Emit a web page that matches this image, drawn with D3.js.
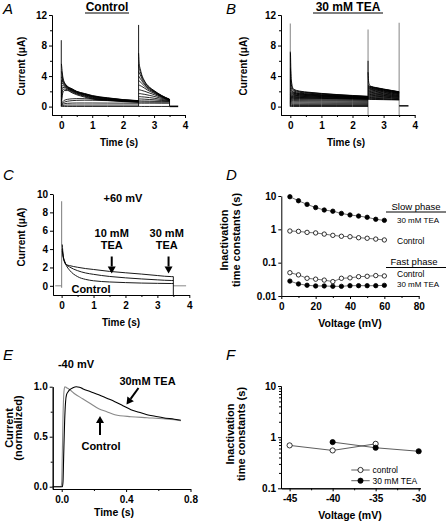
<!DOCTYPE html>
<html><head><meta charset="utf-8">
<script src="https://cdn.jsdelivr.net/npm/d3@7"></script>
<style>
html,body{margin:0;padding:0;background:#fff;}
svg{display:block;font-family:'Liberation Sans',Arial,Helvetica,sans-serif;}
.axis path,.axis line{stroke:#000;stroke-width:1;}
.axis text{font-size:10px;font-weight:bold;fill:#000;font-family:'Liberation Sans',Arial,sans-serif;}
</style></head><body>
<svg id="c" width="446" height="524"></svg>
<script>
// ---------- DATA ----------
// Panel A (control) : families of current traces (µA)
const aT1 = [0.005,0.02,0.05,0.1,0.2,0.35,0.5,0.75,1.0,1.5,2.0,2.5];
const aPulse1 = [
  [0.02,0.02,0.02,0.02,0.02,0.02,0.02,0.02,0.02,0.02,0.02,0.02],
  [0.05,0.1,0.15,0.18,0.2,0.2,0.2,0.2,0.2,0.2,0.2,0.2],
  [0.1,0.2,0.3,0.38,0.43,0.46,0.47,0.47,0.47,0.46,0.45,0.44],
  [0.15,0.3,0.45,0.58,0.7,0.78,0.82,0.84,0.83,0.78,0.72,0.66],
  [0.2,0.4,0.65,0.82,0.95,1.02,1.05,1.04,1.0,0.9,0.8,0.72],
  [0.4,1.0,1.8,2.1,2.1,1.8,1.55,1.25,1.0,0.8,0.65,0.55],
  [0.8,1.6,2.2,2.3,2.2,1.9,1.65,1.35,1.08,0.86,0.7,0.6],
  [1.3,2.2,2.5,2.5,2.3,2.0,1.74,1.43,1.15,0.92,0.74,0.63],
  [1.8,2.7,2.75,2.65,2.38,2.08,1.8,1.5,1.22,0.97,0.78,0.66],
  [2.4,3.1,2.95,2.78,2.45,2.14,1.86,1.56,1.28,1.02,0.82,0.69],
  [3.0,3.5,3.15,2.9,2.52,2.2,1.9,1.61,1.33,1.06,0.85,0.72],
  [3.8,3.9,3.35,3.0,2.57,2.25,1.94,1.65,1.37,1.09,0.88,0.74],
  [4.6,4.4,3.6,3.1,2.62,2.29,1.97,1.69,1.41,1.12,0.9,0.76],
  [5.6,5.0,3.9,3.2,2.67,2.33,2.0,1.72,1.45,1.15,0.92,0.78]
];
const aT2 = [2.5,2.52,2.55,2.6,2.7,2.85,3.0,3.25,3.5];
const aPulse2 = [
  [7.0,5.6,5.0,4.2,3.3,2.55,2.1,1.45,0.97],
  [5.5,5.0,4.6,4.0,3.2,2.5,2.05,1.42,0.95],
  [4.6,4.4,4.2,3.7,3.0,2.4,2.0,1.38,0.93],
  [4.0,3.9,3.7,3.4,2.85,2.3,1.93,1.34,0.91],
  [3.4,3.35,3.25,3.05,2.65,2.18,1.85,1.3,0.9],
  [2.8,2.8,2.75,2.65,2.4,2.02,1.74,1.25,0.88],
  [2.2,2.2,2.18,2.12,2.0,1.78,1.57,1.17,0.85],
  [1.7,1.7,1.7,1.66,1.6,1.47,1.34,1.06,0.82],
  [1.3,1.3,1.3,1.28,1.25,1.18,1.1,0.93,0.78],
  [1.0,1.0,1.0,0.99,0.97,0.93,0.89,0.8,0.73],
  [0.75,0.75,0.75,0.74,0.73,0.72,0.7,0.69,0.68],
  [0.6,0.6,0.6,0.6,0.6,0.59,0.59,0.58,0.58],
  [0.45,0.45,0.45,0.45,0.45,0.45,0.45,0.44,0.44],
  [0.02,0.02,0.02,0.02,0.02,0.02,0.02,0.02,0.02]
];
const aSpikes = [[0,0,8.7],[2.5,0.02,10.7],[3.5,0.02,0.97]];   // [time, from, to]
const aTail = [[3.5,0.03],[3.78,0.03]];

// Panel B (30 mM TEA)
const bT1 = [0.005,0.03,0.1,0.3,0.6,1.0,1.5,2.0,2.5];
const bPulse1 = [
  [0.02,0.02,0.02,0.02,0.02,0.02,0.02,0.02,0.02],
  [0.12,0.14,0.15,0.15,0.15,0.15,0.15,0.15,0.15],
  [0.25,0.3,0.3,0.3,0.3,0.3,0.3,0.3,0.29],
  [0.35,0.45,0.46,0.46,0.45,0.45,0.44,0.44,0.43],
  [0.45,0.6,0.62,0.62,0.61,0.6,0.59,0.58,0.57],
  [0.55,0.75,0.78,0.77,0.76,0.75,0.74,0.72,0.7],
  [0.6,0.88,0.92,0.91,0.9,0.88,0.86,0.84,0.82],
  [0.7,1.0,1.05,1.05,1.03,1.0,0.98,0.96,0.94],
  [0.8,1.1,1.14,1.13,1.1,1.07,1.04,1.0,0.97],
  [0.9,1.2,1.22,1.2,1.17,1.13,1.09,1.05,1.01],
  [1.0,1.3,1.31,1.28,1.24,1.19,1.14,1.09,1.05],
  [1.1,1.4,1.4,1.35,1.3,1.25,1.19,1.13,1.08],
  [1.25,1.52,1.49,1.43,1.37,1.31,1.24,1.17,1.11],
  [1.4,1.65,1.58,1.5,1.43,1.36,1.28,1.21,1.14],
  [1.6,1.78,1.67,1.57,1.49,1.41,1.32,1.25,1.17],
  [1.8,1.9,1.75,1.64,1.55,1.46,1.36,1.28,1.2],
  [2.1,2.05,1.83,1.7,1.61,1.51,1.4,1.31,1.23],
  [2.4,2.2,1.9,1.76,1.66,1.55,1.44,1.34,1.25],
  [3.5,2.5,2.05,1.87,1.75,1.63,1.5,1.39,1.29],
  [5.0,2.9,2.2,1.96,1.83,1.69,1.55,1.43,1.32],
  [7.0,3.5,2.3,2.03,1.88,1.73,1.58,1.46,1.35]
];
const bT2 = [2.5,2.52,2.55,2.6,2.75,3.0,3.25,3.5];
const bPulse2 = [
  [4.5,3.2,2.8,2.65,2.5,2.3,2.12,1.95],
  [2.8,2.72,2.68,2.6,2.46,2.27,2.1,1.92],
  [2.7,2.65,2.6,2.55,2.42,2.24,2.07,1.9],
  [2.6,2.56,2.53,2.48,2.36,2.19,2.03,1.86],
  [2.5,2.48,2.45,2.4,2.3,2.13,1.98,1.82],
  [2.4,2.39,2.37,2.33,2.23,2.08,1.93,1.78],
  [2.3,2.3,2.28,2.25,2.16,2.02,1.88,1.74],
  [2.2,2.2,2.18,2.16,2.08,1.95,1.82,1.69],
  [2.1,2.1,2.08,2.06,1.99,1.87,1.75,1.63],
  [2.0,2.0,1.98,1.96,1.9,1.79,1.68,1.57],
  [1.9,1.9,1.88,1.86,1.8,1.7,1.6,1.5],
  [1.8,1.8,1.79,1.77,1.71,1.62,1.53,1.44],
  [1.7,1.7,1.69,1.67,1.62,1.54,1.46,1.38],
  [1.6,1.6,1.59,1.58,1.53,1.46,1.39,1.32],
  [1.5,1.5,1.49,1.48,1.44,1.38,1.32,1.26],
  [1.4,1.4,1.4,1.39,1.35,1.3,1.25,1.2],
  [1.3,1.3,1.3,1.29,1.26,1.22,1.18,1.13],
  [1.2,1.2,1.2,1.19,1.17,1.13,1.09,1.05],
  [1.1,1.1,1.1,1.09,1.07,1.04,1.0,0.97],
  [1.02,1.02,1.02,1.01,1.0,0.97,0.94,0.92],
  [0.95,0.95,0.95,0.94,0.93,0.91,0.89,0.87]
];
const bGraySpikes = [[0,0,10.9],[2.5,-1.1,10.1],[3.5,-1.1,11.0]];
const bBlackSpikes = [[0,0,7.2],[2.5,0.95,6.0]];
const bTail = [[3.5,0.1],[3.8,0.1]];

// Panel C (+60 mV)
const cTime = [0.02,0.05,0.1,0.15,0.25,0.5,0.75,1.0,1.5,2.0,2.5,3.0,3.45,3.5];
const cControl = [4.5,3.3,2.6,2.2,1.7,1.0,0.7,0.55,0.42,0.35,0.3,0.27,0.25,0.25];
const cTea10   = [4.0,3.2,2.6,2.3,2.05,1.65,1.4,1.25,1.02,0.87,0.75,0.65,0.58,0.58];
const cTea30   = [3.8,3.1,2.5,2.3,2.2,2.02,1.88,1.78,1.57,1.42,1.28,1.12,1.0,1.0];
const cSpike = [0,-0.2,9.2];
const cEnd = [3.5,-1,1.0];
const cTail = [[3.5,0],[3.9,0]];
const cPre = [[-0.2,0],[0,0]];

// Panel D (inactivation time constants vs voltage)
const dVolt = [5,10,15,20,25,30,35,40,45,50,55,60];
const dSlowTea  = [9.5,7.2,5.6,4.5,3.8,3.5,3.0,2.7,2.5,2.3,2.0,1.86];
const dSlowCtrl = [0.89,0.87,0.81,0.78,0.72,0.66,0.62,0.60,0.56,0.54,0.51,0.48];
const dFastCtrl = [0.050,0.043,0.034,0.032,0.030,0.027,0.034,0.035,0.038,0.039,0.041,0.040];
const dFastTea  = [0.028,0.023,0.021,0.020,0.020,0.0195,0.0195,0.0204,0.0204,0.0204,0.0204,0.0209];

// Panel E (-40 mV, normalized)
const eCtrlT = [-0.056,-0.004,0.0,0.004,0.008,0.012,0.016,0.02,0.03,0.05,0.08,0.13,0.18,0.23,0.28,0.33,0.43,0.53,0.63,0.7,0.74];
const eCtrlV = [0,0,0.05,0.35,0.7,0.9,0.98,1.0,0.99,0.97,0.93,0.88,0.83,0.78,0.75,0.72,0.70,0.69,0.68,0.67,0.66];
const eTeaT = [-0.056,0.004,0.008,0.012,0.018,0.024,0.03,0.04,0.05,0.07,0.09,0.11,0.13,0.18,0.23,0.28,0.33,0.38,0.43,0.48,0.53,0.58,0.63,0.7,0.74];
const eTeaV = [0,0,0.05,0.3,0.65,0.85,0.92,0.95,0.97,0.99,1.0,0.995,0.98,0.95,0.92,0.885,0.85,0.81,0.77,0.745,0.72,0.705,0.69,0.675,0.665];

// Panel F
const fCtrlVolt = [-45,-40,-35];
const fCtrlTau  = [0.69,0.55,0.74];
const fTeaVolt  = [-40,-35,-30];
const fTeaTau   = [0.80,0.62,0.53];

// ---------- DRAW ----------
const svg = d3.select('#c');
const F = "'Liberation Sans',Arial,Helvetica,sans-serif";

function text(x,y,s,o={}){
  const t = svg.append('text').attr('x',x).attr('y',y).text(s)
    .attr('font-family',F).attr('font-size',o.size||10)
    .attr('font-weight',o.weight||'bold').attr('text-anchor',o.anchor||'start')
    .attr('fill','#000');
  if(o.italic) t.attr('font-style','italic');
  if(o.rotate) t.attr('transform',`rotate(-90,${x},${y})`);
  return t;
}
function underline(t, y, x1, x2){
  svg.append('line').attr('x1',x1).attr('x2',x2).attr('y1',y).attr('y2',y)
    .attr('stroke','#000').attr('stroke-width',1);
}
function axes(x,y,o){
  const yb = y.range()[0], xl = x.range()[0];
  const gx = svg.append('g').attr('class','axis').attr('transform',`translate(0,${yb})`);
  if(o.xMinor) gx.append('g').call(d3.axisBottom(x).tickValues(o.xMinor).tickFormat('').tickSize(2).tickSizeOuter(0));
  gx.append('g').call(d3.axisBottom(x).tickValues(o.xMajor).tickFormat(o.xFmt).tickSize(3).tickSizeOuter(0).tickPadding(o.xPad||4));
  const gy = svg.append('g').attr('class','axis').attr('transform',`translate(${xl},0)`);
  if(o.yMinor) gy.append('g').call(d3.axisLeft(y).tickValues(o.yMinor).tickFormat('').tickSize(2).tickSizeOuter(0));
  gy.append('g').call(d3.axisLeft(y).tickValues(o.yMajor).tickFormat(o.yFmt).tickSize(3).tickSizeOuter(0).tickPadding(2));
}
const fmt = d => String(d);
function trace(x,y,ts,vs,color,w){
  const pts = ts.map((t,i)=>[t,vs[i]]);
  svg.append('path').datum(pts)
    .attr('d', d3.line().x(d=>x(d[0])).y(d=>y(d[1])).curve(d3.curveMonotoneX))
    .attr('fill','none').attr('stroke',color).attr('stroke-width',w);
}
function seg(x,y,pts,color,w){
  svg.append('path').datum(pts)
    .attr('d', d3.line().x(d=>x(d[0])).y(d=>y(d[1])))
    .attr('fill','none').attr('stroke',color).attr('stroke-width',w);
}
function vline(x,y,s,color,w){
  svg.append('line').attr('x1',x(s[0])).attr('x2',x(s[0])).attr('y1',y(s[1])).attr('y2',y(s[2]))
    .attr('stroke',color).attr('stroke-width',w);
}
function arrow(x1,y1,x2,y2){
  const dx=x2-x1, dy=y2-y1, L=Math.hypot(dx,dy), ux=dx/L, uy=dy/L;
  const hl=7, hw=4;
  const bx=x2-ux*hl, by=y2-uy*hl;
  svg.append('line').attr('x1',x1).attr('y1',y1).attr('x2',bx).attr('y2',by)
    .attr('stroke','#000').attr('stroke-width',2);
  svg.append('path').attr('d',`M${x2},${y2}L${bx-uy*hw},${by+ux*hw}L${bx+uy*hw},${by-ux*hw}Z`).attr('fill','#000');
}

const secTicks = [0,1,2,3,4], secMinor=[0.5,1.5,2.5,3.5];

// ----- Panel A -----
{
  const x = d3.scaleLinear().domain([-0.3,4]).range([52,185]);
  const y = d3.scaleLinear().domain([-1.1,12]).range([115,15]);
  aPulse1.forEach(v=>trace(x,y,aT1,v,'#000',0.85));
  aPulse2.forEach(v=>trace(x,y,aT2,v,'#000',0.85));
  aSpikes.forEach(s=>vline(x,y,s,'#000',0.9));
  seg(x,y,aTail,'#000',1.6);
  axes(x,y,{xMajor:secTicks,xMinor:secMinor,xFmt:fmt,yMajor:[0,4,8,12],yMinor:[2,6,10],yFmt:fmt});
  text(3,14,'A',{size:15,weight:'normal',italic:true});
  const t = text(107,11,'Control',{size:12,anchor:'middle'});
  underline(t,13,85,129);
  text(119,146,'Time (s)',{size:10,anchor:'middle'});
  text(24.5,66,'Current (\u03bcA)',{size:10,anchor:'middle',rotate:true});
}
// ----- Panel B -----
{
  const x = d3.scaleLinear().domain([-0.3,4]).range([281,414.7]);
  const y = d3.scaleLinear().domain([-1.1,12]).range([115,15]);
  bGraySpikes.forEach(s=>vline(x,y,s,'#999',1.2));
  bPulse1.forEach(v=>trace(x,y,bT1,v,'#000',0.9));
  bPulse2.forEach(v=>trace(x,y,bT2,v,'#000',0.9));
  bBlackSpikes.forEach(s=>vline(x,y,s,'#000',0.9));
  seg(x,y,bTail,'#000',1.4);
  axes(x,y,{xMajor:secTicks,xMinor:secMinor,xFmt:fmt,yMajor:[0,4,8,12],yMinor:[2,6,10],yFmt:fmt});
  text(226,14,'B',{size:15,weight:'normal',italic:true});
  const t = text(348,11,'30 mM  TEA',{size:12,anchor:'middle'});
  underline(t,13,313,383);
  text(346,146,'Time (s)',{size:10,anchor:'middle'});
  text(247,66,'Current (\u03bcA)',{size:10,anchor:'middle',rotate:true});
}
// ----- Panel C -----
{
  const x = d3.scaleLinear().domain([-0.27,4]).range([53,189.3]);
  const y = d3.scaleLinear().domain([-1,10]).range([295,194]);
  seg(x,y,cPre,'#888',1);
  vline(x,y,cSpike,'#888',1.1);
  seg(x,y,cTail,'#888',1);
  trace(x,y,cTime,cControl,'#000',0.9);
  trace(x,y,cTime,cTea10,'#000',0.9);
  trace(x,y,cTime,cTea30,'#000',0.9);
  vline(x,y,cEnd,'#000',0.9);
  axes(x,y,{xMajor:secTicks,xMinor:secMinor,xFmt:fmt,yMajor:[0,2,4,6,8,10],yFmt:fmt});
  text(3,180,'C',{size:15,weight:'normal',italic:true});
  text(123,201.5,'+60 mV',{size:11,anchor:'middle'});
  text(111.7,237,'10 mM',{size:11,anchor:'middle'});
  text(111.7,249,'TEA',{size:11,anchor:'middle'});
  text(166.7,237,'30 mM',{size:11,anchor:'middle'});
  text(166.7,249,'TEA',{size:11,anchor:'middle'});
  arrow(x(1.57),256.5,x(1.57),273.5);
  arrow(x(3.35),256.5,x(3.35),273.5);
  text(91,292.5,'Control',{size:11,anchor:'middle'});
  text(121,326,'Time (s)',{size:10,anchor:'middle'});
  text(24.5,237,'Current (\u03bcA)',{size:10,anchor:'middle',rotate:true});
}
// ----- Panel D -----
{
  const x = d3.scaleLinear().domain([0,80]).range([281.3,418.7]);
  const y = d3.scaleLog().domain([0.01,10]).range([296,196]);
  const series = [[dSlowTea,true],[dSlowCtrl,false],[dFastCtrl,false],[dFastTea,true]];
  series.forEach(([vals,filled])=>{
    const pts = dVolt.map((v,i)=>[v,vals[i]]);
    svg.append('path').datum(pts).attr('d',d3.line().x(d=>x(d[0])).y(d=>y(d[1])))
      .attr('fill','none').attr('stroke','#333').attr('stroke-width',0.7);
    svg.append('g').selectAll('circle').data(pts).join('circle')
      .attr('cx',d=>x(d[0])).attr('cy',d=>y(d[1])).attr('r',2.2)
      .attr('fill',filled?'#000':'#fff').attr('stroke','#000').attr('stroke-width',0.8);
  });
  axes(x,y,{xMajor:[0,20,40,60,80],xMinor:[10,30,50,70],xFmt:fmt,yMajor:[0.01,0.1,1,10],yFmt:fmt});
  text(226,180,'D',{size:15,weight:'normal',italic:true});
  text(416,209.5,'Slow phase',{size:9.5,weight:'normal',anchor:'middle'});
  underline(null,212,386,446);
  text(397,223,'30 mM TEA',{size:8,weight:'normal'});
  text(397,243.5,'Control',{size:8.5,weight:'normal'});
  text(414,265,'Fast phase',{size:9.5,weight:'normal',anchor:'middle'});
  underline(null,267.5,386,446);
  text(397,277,'Control',{size:8.5,weight:'normal'});
  text(397,287,'30 mM TEA',{size:8,weight:'normal'});
  text(350,327,'Voltage (mV)',{size:10.5,anchor:'middle'});
  text(228,240,'Inactivation',{size:11,anchor:'middle',rotate:true});
  text(239.5,240,'time constants (s)',{size:11,anchor:'middle',rotate:true});
}
// ----- Panel E -----
{
  const x = d3.scaleLinear().domain([-0.056,0.8]).range([52.7,190.5]);
  const y = d3.scaleLinear().domain([-0.023,1.0]).range([489,386.7]);
  trace(x,y,eCtrlT,eCtrlV,'#888',1.1);
  trace(x,y,eTeaT,eTeaV,'#000',1.1);
  axes(x,y,{xMajor:[0,0.4,0.8],xMinor:[0.2,0.6],xFmt:d3.format('.1f'),yMajor:[0,0.5,1.0],yMinor:[0.25,0.75],yFmt:d3.format('.1f')});
  text(3,360,'E',{size:15,weight:'normal',italic:true});
  text(76,368,'-40 mV',{size:11,anchor:'middle'});
  text(147.5,385,'30mM TEA',{size:11,anchor:'middle'});
  arrow(138.5,388,126.5,404.5);
  arrow(100,435,100,416);
  text(101,450,'Control',{size:11,anchor:'middle'});
  text(114,516,'Time (s)',{size:10.5,anchor:'middle'});
  text(12.5,428,'Current',{size:11,anchor:'middle',rotate:true});
  text(21.5,428,'(normalized)',{size:11,anchor:'middle',rotate:true});
}
// ----- Panel F -----
{
  const x = d3.scaleLinear().domain([-46,-29.8]).range([281,420.4]);
  const y = d3.scaleLog().domain([0.1,10]).range([488.3,386]);
  const series = [[fCtrlVolt,fCtrlTau,false],[fTeaVolt,fTeaTau,true]];
  series.forEach(([vs,ts,filled])=>{
    const pts = vs.map((v,i)=>[v,ts[i]]);
    svg.append('path').datum(pts).attr('d',d3.line().x(d=>x(d[0])).y(d=>y(d[1])))
      .attr('fill','none').attr('stroke','#333').attr('stroke-width',0.8);
    svg.append('g').selectAll('circle').data(pts).join('circle')
      .attr('cx',d=>x(d[0])).attr('cy',d=>y(d[1])).attr('r',2.6)
      .attr('fill',filled?'#000':'#fff').attr('stroke','#000').attr('stroke-width',0.8);
  });
  const minorLog = [0.2,0.3,0.4,0.5,0.6,0.7,0.8,0.9,2,3,4,5,6,7,8,9];
  axes(x,y,{xMajor:[-45,-40,-35,-30],xMinor:[-42.5,-37.5,-32.5],xFmt:d=>String(d),yMajor:[0.1,1,10],yMinor:minorLog,yFmt:fmt});
  // legend
  [[470,false,'control'],[480.7,true,'30 mM TEA']].forEach(([ly,filled,lab])=>{
    svg.append('line').attr('x1',351.3).attr('x2',369.7).attr('y1',ly).attr('y2',ly).attr('stroke','#333').attr('stroke-width',0.8);
    svg.append('circle').attr('cx',360.5).attr('cy',ly).attr('r',2.6).attr('fill',filled?'#000':'#fff').attr('stroke','#000').attr('stroke-width',0.8);
    text(372.5,ly+3,lab,{size:8.5,weight:'normal'});
  });
  text(226,360,'F',{size:15,weight:'normal',italic:true});
  text(350,519,'Voltage (mV)',{size:10.5,anchor:'middle'});
  text(234,434,'Inactivation',{size:11,anchor:'middle',rotate:true});
  text(244.5,434,'time constants (s)',{size:11,anchor:'middle',rotate:true});
}
</script>
</body></html>
